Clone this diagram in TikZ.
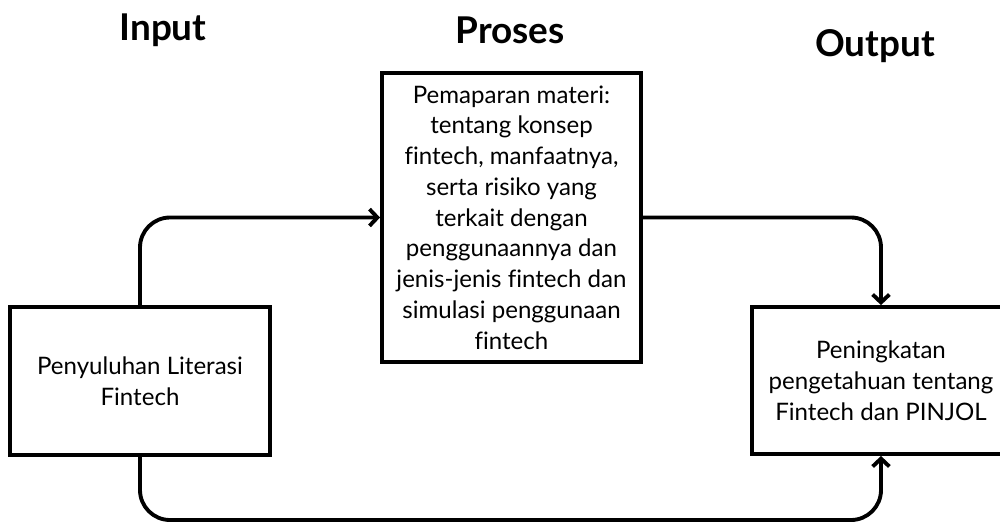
\documentclass[tikz,border=0pt]{standalone}
\usepackage{fontspec}
\setmainfont{Lato}[Ligatures={NoCommon}]
\usetikzlibrary{arrows.meta}

\begin{document}
\begin{tikzpicture}[x=0.02cm, y=-0.02cm]

	\tikzstyle{title_text} = [font=\fontsize{21}{24}\selectfont\bfseries]
	\tikzstyle{box_step} = [draw=black, line width=2.2pt, align=center, inner sep=0pt, font=\fontsize{13.7}{17.5}\selectfont]
	\tikzstyle{link} = [line width=2.2pt, rounded corners=0.6cm, -{Straight Barb[length=4.5pt, width=9.5pt]}]

	\useasboundingbox (0,0) rectangle (1000,522);
	\clip (0,0) rectangle (1000,522);

%------------------------------------------------------------
	\node[title_text] (t_in) at (163,30) {Input};
	\node[title_text] (t_proc) at (510,30) {Proses};
	\node[title_text] (t_out) at (875,46) {Output};

%------------------------------------------------------------
	\node[box_step, minimum width=260*0.02cm, minimum height=148*0.02cm] (in) at (140,381)
		{Penyuluhan Literasi\\Fintech};

	\node[box_step, minimum width=259*0.02cm, minimum height=289*0.02cm] (proc) at (511.5,217.5)
		{Pemaparan materi:\\tentang konsep\\fintech, manfaatnya,\\serta risiko yang\\terkait dengan\\penggunaannya dan\\jenis-jenis fintech dan\\simulasi penggunaan\\fintech};

	\node[box_step, minimum width=258*0.02cm, minimum height=147*0.02cm] (out) at (881,380.5)
		{Peningkatan\\pengetahuan tentang\\Fintech dan PINJOL};

	\coordinate (base) at (511,520);

%------------------------------------------------------------
	\draw[link] (in.north) |- (proc.west);
	\draw[link] (proc.east) -| (out.north);
	\draw[link] (in.south) |- (base) -| (out.south);

\end{tikzpicture}
\end{document}
